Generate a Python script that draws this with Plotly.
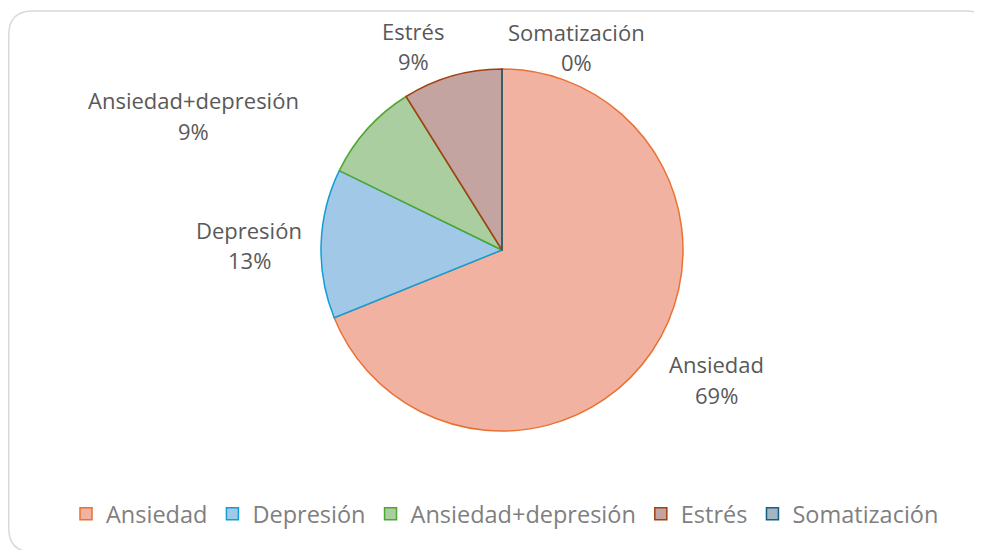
import plotly.graph_objects as go

# counts per category (read as shares: 69 / 13 / 9 / 9 / 0 %)
categories = ["Ansiedad", "Depresión", "Ansiedad+depresión", "Estrés", "Somatización"]
counts = [31, 6, 4, 4, 0]

fill_colors = ["#F1B2A2", "#A2C8E8", "#AACEA0", "#C4A4A0", "#A3B4C2"]
line_colors = ["#E97132", "#0F9ED5", "#4EA72E", "#A0410E", "#156082"]

# label anchor points in page pixels (x, name line y, percent line y)
label_pos = {
    "Ansiedad": (716, 364, 395),
    "Depresión": (249, 230, 260),
    "Ansiedad+depresión": (193, 100, 131),
    "Estrés": (413, 31, 61),
    "Somatización": (576, 32, 62),
}

W, H = 982, 550
OFF = 8  # the page body margin shifts the figure by 8px
FONT = "Open Sans, Liberation Sans, sans-serif"
total = sum(counts)


def px(x):
    return (x - OFF) / W


def py(y):
    return 1 - (y - OFF) / H


fig = go.Figure()
fig.add_trace(
    go.Pie(
        labels=categories,
        values=counts,
        sort=False,
        direction="clockwise",
        rotation=0,
        textinfo="none",
        hoverinfo="label+percent",
        marker=dict(colors=fill_colors, line=dict(color=line_colors, width=1.5)),
        domain=dict(x=[px(321), px(683)], y=[py(431), py(69)]),
    )
)

annotations = []
for cat, n in zip(categories, counts):
    x, y_name, y_pct = label_pos[cat]
    for txt, y in ((cat, y_name), (f"{n / total:.0%}", y_pct)):
        annotations.append(
            dict(
                x=px(x), y=py(y), xref="paper", yref="paper",
                xanchor="center", yanchor="middle", showarrow=False,
                text=txt, font=dict(size=22, color="#595959", family=FONT),
            )
        )

x0, x1, y0, y1, r = px(8.75), px(990), py(11), py(552), 24
rx, ry = r / W, r / H
fig.update_layout(
    width=W,
    height=H,
    margin=dict(l=0, r=0, t=0, b=0),
    paper_bgcolor="white",
    plot_bgcolor="white",
    font=dict(family=FONT, color="#595959"),
    annotations=annotations,
    showlegend=True,
    legend=dict(
        orientation="h",
        x=px(505), xanchor="center",
        y=py(514), yanchor="middle",
        font=dict(size=23.5, color="#7F7F7F", family=FONT),
        itemclick=False,
    ),
    shapes=[
        dict(
            type="path", xref="paper", yref="paper", layer="below",
            path=(
                f"M {x0} {y0 - ry} Q {x0} {y0} {x0 + rx} {y0} "
                f"L {x1 - rx} {y0} Q {x1} {y0} {x1} {y0 - ry} "
                f"L {x1} {y1 + ry} Q {x1} {y1} {x1 - rx} {y1} "
                f"L {x0 + rx} {y1} Q {x0} {y1} {x0} {y1 + ry} Z"
            ),
            line=dict(color="#D9D9D9", width=1.5),
        )
    ],
)

fig.write_html("out.html")
